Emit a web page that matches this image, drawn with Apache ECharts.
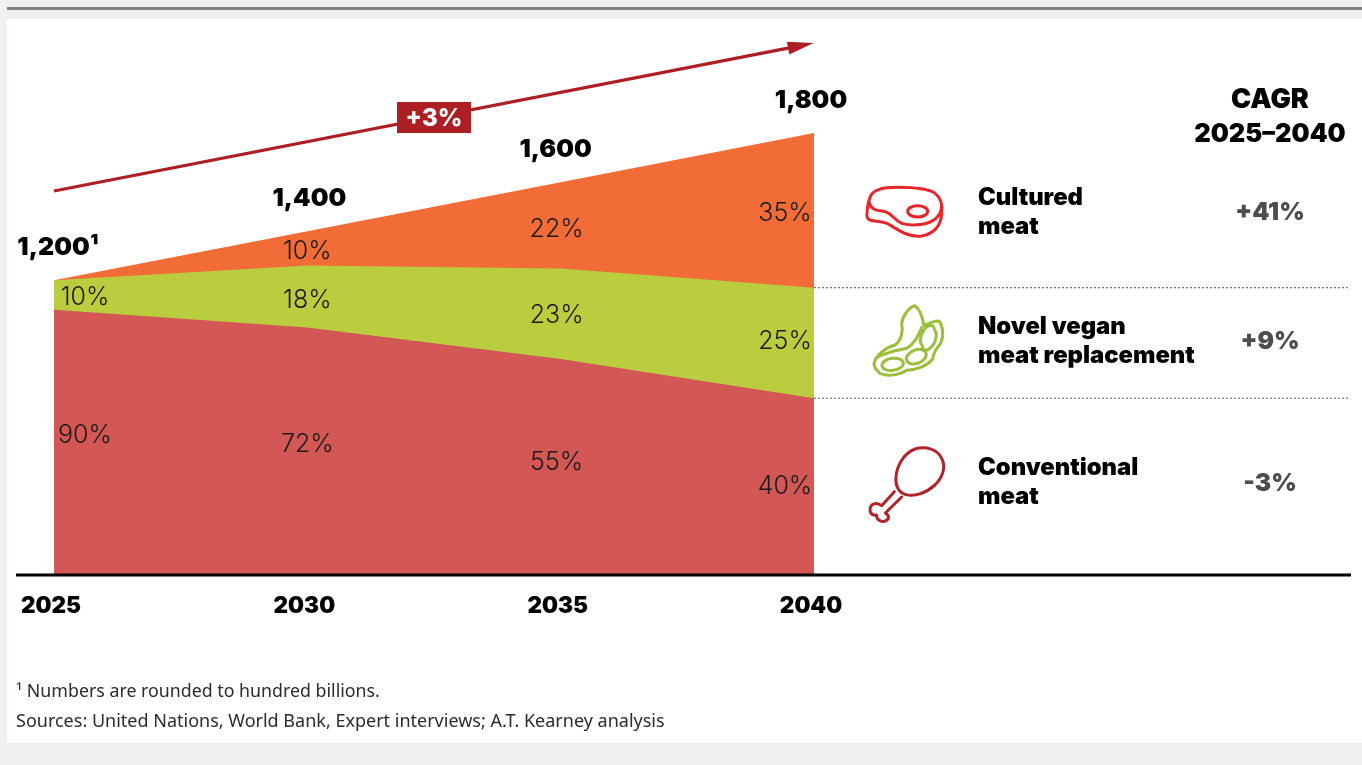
<!DOCTYPE html>
<html>
<head>
<meta charset="utf-8">
<style>
html, body { margin: 0; padding: 0; background: #eef0f2; }
#panel { position: absolute; left: 7px; top: 19px; width: 1355px; height: 724px; background: #fff; }
#rule { position: absolute; left: 7px; top: 7px; width: 1355px; height: 3px; background: #7f8082; }
#chart { position: absolute; left: 0; top: 0; width: 1362px; height: 765px; }
</style>
<script src="https://cdn.jsdelivr.net/npm/echarts@6/dist/echarts.min.js"></script>
</head>
<body>
<div id="rule"></div>
<div id="panel"></div>
<div id="chart"></div>
<script>
// Global meat market by source, USD billions
const years = [2025, 2030, 2035, 2040];
const totals = [1200, 1400, 1600, 1800];
const totalLabels = ['1,200¹', '1,400', '1,600', '1,800'];
const conventionalShare = [90, 72, 55, 40];
const veganShare = [10, 18, 23, 25];
const culturedShare = [0, 10, 22, 35];
const segmentNames = ['Conventional meat', 'Novel vegan meat replacement', 'Cultured meat'];
const cagrValues = ['-3%', '+9%', '+41%'];
const footnotes = [
  '¹ Numbers are rounded to hundred billions.',
  'Sources: United Nations, World Bank, Expert interviews; A.T. Kearney analysis'
];

const HEAVY = 'Inter';
const COL = { red: '#d25755', green: '#b9cd3f', orange: '#f26c38', dark: '#ad1f24', grey: '#4d4d4f' };

const amount = (share, i) => totals[i] * share / 100;
const shareSeries = [conventionalShare, veganShare, culturedShare];

// Cumulative top edge of a band: the sum of its own share and those below it
const cumulative = (upTo, i) => {
  let sum = 0;
  for (let k = 0; k <= upTo; k++) sum += amount(shareSeries[k][i], i);
  return sum;
};

// Both axes are numeric, so bands are layered tallest first rather than stacked
function areaSeries(name, bandIndex, color) {
  return {
    name, type: 'line', showSymbol: false, silent: true, z: 2,
    lineStyle: { width: 0 }, areaStyle: { color, opacity: 1 },
    data: years.map((y, i) => [y, cumulative(bandIndex, i)])
  };
}

// Percent labels sit at the middle of each band
const labelData = [];
const shiftX = [31, 0, -4, -29];
const shiftY = [[-7, -7, -4, 0], [2, 4, 2, -1], [1, 3, 4, 3]];
shareSeries.forEach((share, s) => {
  years.forEach((y, i) => {
    if (!share[i]) return;
    labelData.push({
      value: [y, cumulative(s, i) - amount(share[i], i) / 2],
      label: { formatter: share[i] + '%', offset: [shiftX[i], shiftY[s][i]] }
    });
  });
});

const totalOffsetX = [4, 2, -5, -3];

// Segment icons, traced on a 360-unit canvas and scaled down by a third
const steakPath =
  'M62 78 C70 60 95 52 140 52 C190 52 235 55 255 70 C275 85 278 105 275 130 C273 165 255 190 215 198 ' +
  'C175 203 145 180 115 162 C95 152 75 155 60 150 C48 145 50 135 52 118 C54 100 56 90 62 78 Z ' +
  'M58 98 C60 115 75 122 100 124 C125 128 132 150 155 160 C190 170 235 165 258 145 C268 135 275 120 275 108 ' +
  'M173 124 A30 17 0 1 1 233 124 A30 17 0 1 1 173 124 Z';
const beanPath =
  'M72 205 C78 180 105 158 135 150 C155 135 160 105 155 85 C158 60 180 35 195 32 C210 42 218 70 222 92 ' +
  'C235 85 255 78 267 78 C280 95 282 128 270 148 C255 165 250 175 248 192 C230 215 195 225 170 226 ' +
  'C150 240 115 245 92 236 C80 228 72 218 72 205 Z ' +
  'M80 188 C110 170 145 165 170 160 C195 145 205 120 215 98 ' +
  'M96 212 A32 18 -8 1 1 160 204 A32 18 -8 1 1 96 212 Z ' +
  'M170 196 A31 20 -22 1 1 228 174 A31 20 -22 1 1 170 196 Z ' +
  'M216 150 A18 33 25 1 1 254 106 A18 33 25 1 1 216 150 Z';
const drumPath =
  'M165 178 C145 172 135 150 138 125 C140 95 160 55 195 42 C225 32 262 42 275 70 C290 100 275 130 255 150 ' +
  'C230 172 195 188 165 178 Z ' +
  'M133 170 L95 212 C80 200 60 205 60 225 C60 238 72 242 80 240 C78 258 105 268 115 250 C118 242 112 238 106 234 L155 186';

const iconSeries = (x, y, pathData, color) => ({
  type: 'custom', coordinateSystem: 'none', silent: true, z: 8, data: [0],
  renderItem: () => ({
    type: 'path', x, y, scaleX: 1 / 3, scaleY: 1 / 3,
    shape: { pathData },
    style: { fill: 'none', stroke: color, lineWidth: 9, lineCap: 'round', lineJoin: 'round' }
  })
});

const option = {
  animation: false,
  backgroundColor: 'transparent',
  grid: { left: 54, width: 760, top: 34.8, height: 540.2 },
  xAxis: {
    type: 'value', min: 2025, max: 2040, interval: 5,
    splitLine: { show: false }, axisLine: { show: false }, axisTick: { show: false },
    axisLabel: {
      formatter: v => String(v), margin: 20, padding: [0, 6, 0, 0],
      fontFamily: HEAVY, fontWeight: 900, fontSize: 22.5, color: '#000', showMinLabel: true, showMaxLabel: true
    }
  },
  yAxis: { type: 'value', min: 0, max: 2200, show: false, splitLine: { show: false } },
  series: [
    areaSeries(segmentNames[2], 2, COL.orange),
    areaSeries(segmentNames[1], 1, COL.green),
    areaSeries(segmentNames[0], 0, COL.red),
    {
      type: 'scatter', symbolSize: 0, silent: true, z: 5, data: labelData, itemStyle: { opacity: 1 },
      label: { show: true, position: 'inside', fontFamily: 'Inter', fontWeight: 300, fontSize: 25, color: '#1a1a1a' }
    },
    {
      type: 'scatter', symbolSize: 0, silent: true, z: 5, itemStyle: { opacity: 1 },
      data: years.map((y, i) => ({
        value: [y, totals[i]],
        label: { formatter: totalLabels[i], offset: [totalOffsetX[i], -33] }
      })),
      label: { show: true, position: 'inside', fontFamily: HEAVY, fontWeight: 900, fontSize: 25, color: '#000' }
    },
    {
      // growth arrow above the stack
      type: 'line', data: [], silent: true, z: 6,
      markLine: {
        silent: true, animation: false, symbol: ['none', 'triangle'], symbolSize: [13, 26],
        lineStyle: { color: COL.dark, width: 3.2, type: 'solid' }, label: { show: false },
        data: [[{ coord: [2025, 1564] }, { coord: [2039.74, 2156] }]]
      }
    },
    iconSeries(850, 170, steakPath, '#e8262a'),
    iconSeries(850, 295, beanPath, '#9cbf3b'),
    iconSeries(850, 435, drumPath, '#b3232a')
  ]
};

const chart = echarts.init(document.getElementById('chart'), null, { renderer: 'canvas' });
chart.setOption(option);

const txt = (x, y, text, size, extra) => ({
  type: 'text', x, y, z: 20, silent: true,
  style: Object.assign({
    text, fontFamily: HEAVY, fontWeight: 900, fontSize: size, fill: '#000',
    align: 'left', verticalAlign: 'middle'
  }, extra || {})
});

const y0 = chart.convertToPixel({ gridIndex: 0 }, [2040, cumulative(0, 3)])[1];
const y1 = chart.convertToPixel({ gridIndex: 0 }, [2040, cumulative(1, 3)])[1];
const divider = y => ({
  type: 'line', z: 20, silent: true,
  shape: { x1: 814, y1: y, x2: 1348, y2: y },
  style: { stroke: '#555', lineWidth: 1, lineDash: [2, 2] }
});

chart.setOption({
  graphic: { elements: [
    { type: 'rect', z: 20, silent: true, shape: { x: 16, y: 573.5, width: 1335, height: 3 }, style: { fill: '#000' } },
    divider(y0), divider(y1),
    { type: 'rect', z: 20, silent: true, shape: { x: 397, y: 102, width: 74, height: 31 }, style: { fill: COL.dark } },
    txt(434, 118.5, '+3%', 24, { align: 'center', fill: '#fff', fontWeight: 800 }),

    txt(978, 198, 'Cultured', 23.8), txt(978, 227, 'meat', 23.8),
    txt(978, 327, 'Novel vegan', 23.8), txt(978, 356, 'meat replacement', 23.8),
    txt(978, 468, 'Conventional', 23.8), txt(978, 497, 'meat', 23.8),

    txt(1270, 99.5, 'CAGR', 27, { align: 'center' }),
    txt(1270, 134, '2025–2040', 25.5, { align: 'center' }),
    txt(1270, 213, cagrValues[2], 24.5, { align: 'center', fill: COL.grey }),
    txt(1270, 342, cagrValues[1], 24.5, { align: 'center', fill: COL.grey }),
    txt(1270, 484, cagrValues[0], 24.5, { align: 'center', fill: COL.grey }),

    txt(16, 692, footnotes[0], 17.8, { fontFamily: 'Noto Sans', fontWeight: 400, fill: '#2b2b2b' }),
    txt(16, 722, footnotes[1], 18, { fontFamily: 'Noto Sans', fontWeight: 400, fill: '#2b2b2b' })
  ] }
});
</script>
</body>
</html>
